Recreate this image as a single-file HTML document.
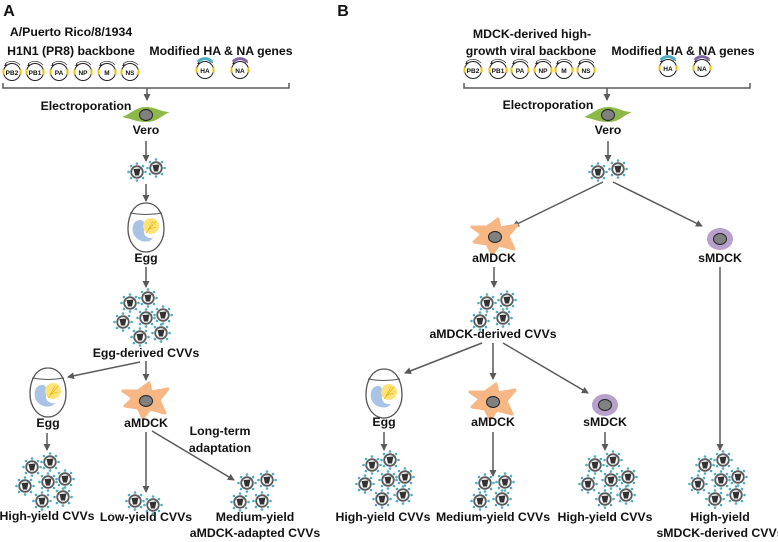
<!DOCTYPE html>
<html><head><meta charset="utf-8"><style>
html,body{margin:0;padding:0;background:#fff;}
svg{display:block;}
text{font-family:"Liberation Sans",sans-serif;font-weight:bold;fill:#111;text-anchor:middle;}
.t{font-size:12.3px;}
.p{font-size:6.5px;}
.l{stroke:#595959;stroke-width:1.5;fill:none;}
</style></head><body>
<svg width="778" height="542" viewBox="0 0 778 542" xmlns="http://www.w3.org/2000/svg">
<defs>
<marker id="ah" markerUnits="userSpaceOnUse" markerWidth="7" markerHeight="7" refX="6" refY="3.5" orient="auto"><path d="M0,0 L7,3.5 L0,7 z" fill="#595959"/></marker>
<g id="v">
 <g fill="#4bacc6">
  <circle cx="0" cy="-8.5" r="1.3"/><circle cx="6" cy="-6" r="1.3"/><circle cx="8.5" cy="0" r="1.3"/><circle cx="6" cy="6" r="1.3"/>
  <circle cx="0" cy="8.5" r="1.3"/><circle cx="-6" cy="6" r="1.3"/><circle cx="-8.5" cy="0" r="1.3"/><circle cx="-6" cy="-6" r="1.3"/>
 </g>
 <circle r="5.8" fill="#fff" stroke="#5a5a5a" stroke-width="1.8"/>
 <path d="M-3.5,-3 L3.5,-3.5 L2,3.5 L-2,3.5 Z" fill="#333"/>
</g>
<g id="c7">
 <use href="#v" x="4" y="-20"/><use href="#v" x="-14" y="-15"/><use href="#v" x="19" y="-3"/><use href="#v" x="2" y="0"/>
 <use href="#v" x="-21" y="4"/><use href="#v" x="-4" y="19"/><use href="#v" x="17" y="15"/>
</g>
<g id="pl">
 <circle r="8.5" fill="#fff" stroke="#222" stroke-width="1"/>
 <rect x="-9.5" y="-2.5" width="2" height="5" fill="#f2c200"/>
 <rect x="7.5" y="-2.5" width="2" height="5" fill="#f2c200"/>
 <path d="M-7,-8 A10.5 10.5 0 0 1 8,-7" fill="none" stroke="#333" stroke-width="0.7"/>
 <path d="M-8,-6 L-6,-8.5 L-5,-6z" fill="#222"/>
</g>
<g id="vero">
 <path d="M-24,2 C-14,-2 -10,-8 0,-8 C10,-8 14,-3 24,-3 C14,1 12,7 0,7 C-10,7 -14,4 -24,2Z" fill="#8db84a"/>
 <ellipse rx="6.5" ry="5.5" fill="#808080" stroke="#222" stroke-width="1"/>
</g>
<g id="amdck">
 <path d="M-23,-10 L-8,-10 L3,-18 L5,-9 L22,-12 L13,-1 L19,12 L4,8 L-3,17 L-8,7 L-21,5 L-13,-3Z" fill="#f7b785" stroke="#f7b785" stroke-width="3" stroke-linejoin="round"/>
 <ellipse rx="6.5" ry="5.5" fill="#808080" stroke="#222" stroke-width="1"/>
</g>
<g id="smdck">
 <ellipse rx="13" ry="11" fill="#b7a0cc"/>
 <ellipse rx="6.5" ry="5.5" fill="#808080" stroke="#222" stroke-width="1"/>
</g>
<g id="egg">
 <path d="M0,-24 C12,-24 18,-12 18,2 C18,15 10,25 0,25 C-10,25 -18,15 -18,2 C-18,-12 -12,-24 0,-24Z" fill="#fff" stroke="#555" stroke-width="1.3"/>
 <path d="M-16,-14 Q0,-11 16,-14" fill="none" stroke="#555" stroke-width="1"/>
 <path d="M-6,-7 C-13,-7 -15,2 -12,8 C-8,15 3,17 7,11 C1,12 -3,8 -2,3 C-1,-1 -1,-7 -6,-7Z" fill="#a9c3e6"/>
 <ellipse cx="5" cy="-1" rx="8" ry="8" fill="#ffe37a"/>
 <path d="M0,6 L10,-6 M3,2 L10,0 M2,3 L7,-6" stroke="#d9b300" stroke-width="0.6"/>
</g>
</defs>

<!-- Panel A -->
<text x="9" y="16" style="font-size:16px">A</text>
<text class="t" x="71" y="36">A/Puerto Rico/8/1934</text>
<text class="t" x="71" y="55">H1N1 (PR8) backbone</text>
<text class="t" x="221" y="55">Modified HA &amp; NA genes</text>
<use href="#pl" x="12" y="72"/><use href="#pl" x="35" y="72"/><use href="#pl" x="59" y="72"/>
<use href="#pl" x="83" y="72"/><use href="#pl" x="107" y="72"/><use href="#pl" x="130" y="72"/>
<use href="#pl" x="205" y="70"/><use href="#pl" x="240" y="70"/>
<path d="M198,62 A9 9 0 0 1 212,62" fill="none" stroke="#4bacc6" stroke-width="3"/>
<path d="M233,62 A9 9 0 0 1 247,62" fill="none" stroke="#8064a2" stroke-width="3"/>
<text class="p" x="12" y="75">PB2</text><text class="p" x="35" y="75">PB1</text><text class="p" x="59" y="75">PA</text>
<text class="p" x="83" y="75">NP</text><text class="p" x="107" y="75">M</text><text class="p" x="130" y="75">NS</text>
<text class="p" x="205" y="73">HA</text><text class="p" x="240" y="73">NA</text>
<path class="l" d="M3,83 V88 H289 V83"/>
<line class="l" x1="147" y1="88" x2="147" y2="100" marker-end="url(#ah)"/>
<text class="t" x="86" y="110">Electroporation</text>
<use href="#vero" x="146" y="115"/>
<text class="t" x="146" y="134">Vero</text>
<line class="l" x1="146" y1="141" x2="146" y2="161" marker-end="url(#ah)"/>
<use href="#v" x="137" y="172"/><use href="#v" x="156" y="168"/>
<line class="l" x1="146" y1="184" x2="146" y2="201" marker-end="url(#ah)"/>
<use href="#egg" x="146" y="227"/>
<text class="t" x="146" y="262">Egg</text>
<line class="l" x1="146" y1="267" x2="146" y2="287" marker-end="url(#ah)"/>
<use href="#c7" x="144" y="318"/>
<text class="t" x="146" y="357">Egg-derived CVVs</text>
<line class="l" x1="140" y1="362" x2="68" y2="377" marker-end="url(#ah)"/>
<line class="l" x1="146" y1="361" x2="146" y2="380" marker-end="url(#ah)"/>
<use href="#egg" x="48" y="392"/>
<text class="t" x="48" y="427">Egg</text>
<use href="#amdck" x="146" y="401"/>
<text class="t" x="146" y="427">aMDCK</text>
<line class="l" x1="47" y1="433" x2="47" y2="450" marker-end="url(#ah)"/>
<use href="#c7" x="46" y="482"/>
<text class="t" x="47" y="520">High-yield CVVs</text>
<line class="l" x1="146" y1="432" x2="146" y2="492" marker-end="url(#ah)"/>
<use href="#v" x="135" y="501"/><use href="#v" x="153" y="505"/>
<text class="t" x="146" y="521">Low-yield CVVs</text>
<line class="l" x1="152" y1="431" x2="234" y2="480" marker-end="url(#ah)"/>
<text class="t" x="220" y="435">Long-term</text>
<text class="t" x="220" y="452">adaptation</text>
<use href="#v" x="247" y="483"/><use href="#v" x="267" y="480"/><use href="#v" x="240" y="502"/><use href="#v" x="262" y="501"/>
<text class="t" x="255" y="521">Medium-yield</text>
<text class="t" x="255" y="537">aMDCK-adapted CVVs</text>

<!-- Panel B -->
<text x="343" y="16" style="font-size:16px">B</text>
<text class="t" x="532" y="38">MDCK-derived high-</text>
<text class="t" x="531" y="55">growth viral backbone</text>
<text class="t" x="683" y="55">Modified HA &amp; NA genes</text>
<use href="#pl" x="473" y="70"/><use href="#pl" x="498" y="70"/><use href="#pl" x="520" y="70"/>
<use href="#pl" x="543" y="70"/><use href="#pl" x="564" y="70"/><use href="#pl" x="586" y="70"/>
<use href="#pl" x="668" y="68"/><use href="#pl" x="702" y="68"/>
<path d="M661,60 A9 9 0 0 1 675,60" fill="none" stroke="#4bacc6" stroke-width="3"/>
<path d="M695,60 A9 9 0 0 1 709,60" fill="none" stroke="#8064a2" stroke-width="3"/>
<text class="p" x="473" y="73">PB2</text><text class="p" x="498" y="73">PB1</text><text class="p" x="520" y="73">PA</text>
<text class="p" x="543" y="73">NP</text><text class="p" x="564" y="73">M</text><text class="p" x="586" y="73">NS</text>
<text class="p" x="668" y="71">HA</text><text class="p" x="702" y="71">NA</text>
<path class="l" d="M464,83 V88 H750 V83"/>
<line class="l" x1="607" y1="88" x2="607" y2="100" marker-end="url(#ah)"/>
<text class="t" x="548" y="109">Electroporation</text>
<use href="#vero" x="608" y="115"/>
<text class="t" x="608" y="134">Vero</text>
<line class="l" x1="608" y1="141" x2="608" y2="161" marker-end="url(#ah)"/>
<use href="#v" x="598" y="172"/><use href="#v" x="618" y="169"/>
<line class="l" x1="603" y1="182" x2="513" y2="226" marker-end="url(#ah)"/>
<line class="l" x1="613" y1="182" x2="702" y2="226" marker-end="url(#ah)"/>
<use href="#amdck" x="495" y="237"/>
<text class="t" x="494" y="262">aMDCK</text>
<use href="#smdck" x="720" y="239"/>
<text class="t" x="720" y="262">sMDCK</text>
<line class="l" x1="494" y1="267" x2="494" y2="287" marker-end="url(#ah)"/>
<use href="#v" x="487" y="303"/><use href="#v" x="507" y="300"/><use href="#v" x="480" y="321"/><use href="#v" x="503" y="318"/>
<text class="t" x="493" y="338">aMDCK-derived CVVs</text>
<line class="l" x1="482" y1="343" x2="405" y2="373" marker-end="url(#ah)"/>
<line class="l" x1="493" y1="343" x2="493" y2="379" marker-end="url(#ah)"/>
<line class="l" x1="503" y1="343" x2="588" y2="393" marker-end="url(#ah)"/>
<line class="l" x1="720" y1="267" x2="720" y2="450" marker-end="url(#ah)"/>
<use href="#egg" x="384" y="393"/>
<text class="t" x="384" y="426">Egg</text>
<use href="#amdck" x="493" y="402"/>
<text class="t" x="493" y="426">aMDCK</text>
<use href="#smdck" x="605" y="405"/>
<text class="t" x="605" y="426">sMDCK</text>
<line class="l" x1="384" y1="432" x2="384" y2="450" marker-end="url(#ah)"/>
<line class="l" x1="493" y1="432" x2="493" y2="476" marker-end="url(#ah)"/>
<line class="l" x1="605" y1="432" x2="605" y2="450" marker-end="url(#ah)"/>
<use href="#c7" x="386" y="480"/>
<use href="#v" x="485" y="483"/><use href="#v" x="505" y="482"/><use href="#v" x="480" y="501"/><use href="#v" x="502" y="499"/>
<use href="#c7" x="609" y="480"/>
<use href="#c7" x="719" y="480"/>
<text class="t" x="383" y="521">High-yield CVVs</text>
<text class="t" x="493" y="521">Medium-yield CVVs</text>
<text class="t" x="605" y="521">High-yield CVVs</text>
<text class="t" x="720" y="521">High-yield</text>
<text class="t" x="720" y="537">sMDCK-derived CVVs</text>
</svg>
</body></html>
